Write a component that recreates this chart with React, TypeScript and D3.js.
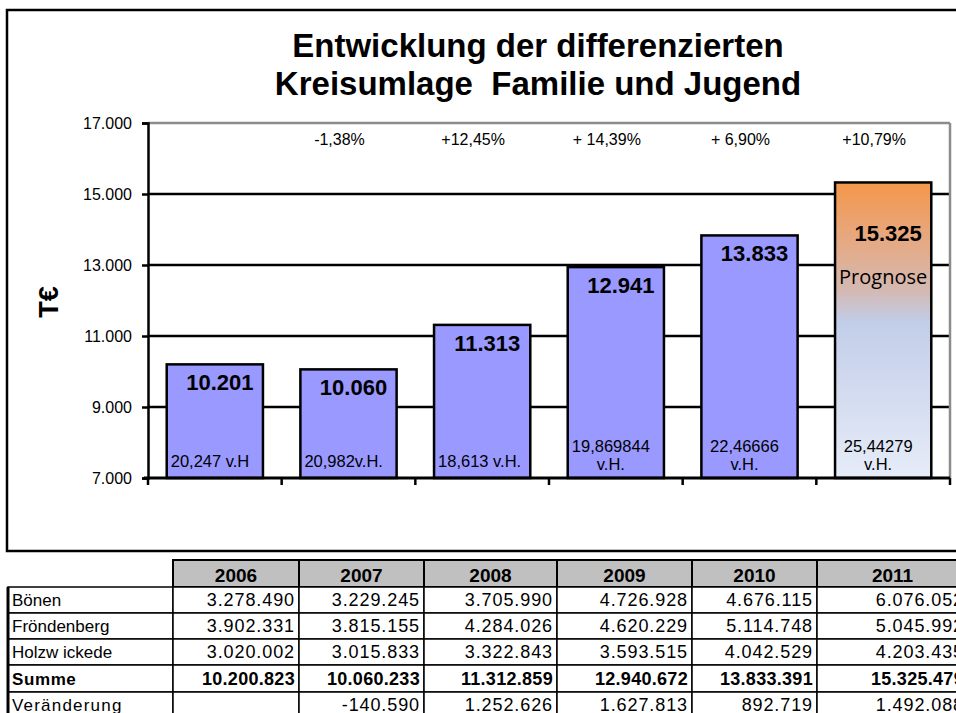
import React, { useEffect, useRef } from 'react';
import * as d3 from 'd3';

// chart data (T€)
const years = ['2006', '2007', '2008', '2009', '2010', '2011'];
const barValues = [10201, 10060, 11313, 12941, 13833, 15325];
const changeLabels = ['-1,38%', '+12,45%', '+ 14,39%', '+ 6,90%', '+10,79%'];
const shareLabels = [
  ['20,247 v.H'],
  ['20,982v.H.'],
  ['18,613 v.H.'],
  ['19,869844', 'v.H.'],
  ['22,46666', 'v.H.'],
  ['25,44279', 'v.H.'],
];
const yTicks = [7000, 9000, 11000, 13000, 15000, 17000];

// table data (€)
const rowNames = ['Bönen', 'Fröndenberg', 'Holzw ickede', 'Summe', 'Veränderung'];
const boenen = [3278490, 3229245, 3705990, 4726928, 4676115, 6076052];
const froendenberg = [3902331, 3815155, 4284026, 4620229, 5114748, 5045992];
const holzwickede = [3020002, 3015833, 3322843, 3593515, 4042529, 4203435];
const summe = [10200823, 10060233, 11312859, 12940672, 13833391, 15325479];
const veraenderung = [null, -140590, 1252626, 1627813, 892719, 1492088];

const FONT = '"Liberation Sans", Arial, sans-serif';

const de = d3.formatLocale({
  decimal: ',',
  thousands: '.',
  grouping: [3],
  currency: ['', ' €'],
  minus: '-',
});
const fmt = de.format(',.0f');

const App = () => {
  const ref = useRef<SVGSVGElement | null>(null);

  useEffect(() => {
    if (!ref.current) return;
    const svg = d3.select(ref.current);
    svg.selectAll('*').remove();

    const W = 956, H = 713;
    svg.append('rect').attr('width', W).attr('height', H).attr('fill', '#fff');

    // outer chart frame
    svg.append('rect')
      .attr('x', 7).attr('y', 10).attr('width', 970).attr('height', 541)
      .attr('fill', 'none').attr('stroke', '#000').attr('stroke-width', 2.5);

    // title
    const title = svg.append('text')
      .attr('text-anchor', 'middle')
      .attr('font-family', FONT).attr('font-weight', 'bold').attr('font-size', 33)
      .style('white-space', 'pre');
    title.append('tspan').attr('x', 538).attr('y', 57).text('Entwicklung der differenzierten');
    title.append('tspan').attr('x', 538).attr('y', 95).text('Kreisumlage  Familie und Jugend');

    const left = 148, right = 950, top = 123, bottom = 478;

    const x = d3.scaleBand().domain(years).range([left, right])
      .paddingInner(0.28).paddingOuter(0.14);
    const step = x.step();
    const y = d3.scaleLinear().domain([7000, 17000]).range([bottom, top]);

    // y-axis label
    svg.append('text')
      .attr('transform', `translate(58,302) rotate(-90)`)
      .attr('text-anchor', 'middle')
      .attr('font-family', FONT).attr('font-weight', 'bold').attr('font-size', 27)
      .text('T€');

    // gridlines
    svg.append('g').selectAll('line')
      .data(yTicks.filter(t => t > 7000))
      .enter().append('line')
      .attr('x1', left).attr('x2', right)
      .attr('y1', d => y(d)).attr('y2', d => y(d))
      .attr('stroke', d => (d === 17000 ? '#8c8c8c' : '#000'))
      .attr('stroke-width', 2.5);

    // right border of plot area
    svg.append('line')
      .attr('x1', right).attr('x2', right).attr('y1', top).attr('y2', bottom)
      .attr('stroke', '#8c8c8c').attr('stroke-width', 2.5);

    // y axis
    const yAxis = svg.append('g')
      .attr('transform', `translate(${left},0)`)
      .call(d3.axisLeft(y).tickValues(yTicks).tickFormat(d => fmt(d as number)).tickSize(6).tickPadding(10));
    yAxis.select('.domain').attr('stroke-width', 2.5);
    yAxis.selectAll('.tick line').attr('stroke-width', 2.5);
    yAxis.selectAll('.tick text')
      .attr('font-family', FONT).attr('font-size', 16).attr('fill', '#000');

    // gradient for forecast bar
    const defs = svg.append('defs');
    const grad = defs.append('linearGradient').attr('id', 'prog')
      .attr('x1', 0).attr('y1', 0).attr('x2', 0).attr('y2', 1);
    [[0, '#f4974a'], [0.22, '#e4ab89'], [0.36, '#d4b8b0'], [0.47, '#c2cde8'], [1, '#e6ecf8']]
      .forEach(([o, c]) => grad.append('stop').attr('offset', o as number).attr('stop-color', c as string));

    // bars
    svg.append('g').selectAll('rect')
      .data(barValues)
      .enter().append('rect')
      .attr('x', (d, i) => x(years[i])!)
      .attr('y', d => y(d))
      .attr('width', x.bandwidth())
      .attr('height', d => bottom - y(d))
      .attr('fill', (d, i) => (i === years.length - 1 ? 'url(#prog)' : '#9999ff'))
      .attr('stroke', '#000').attr('stroke-width', 2.5);

    // x axis
    svg.append('line')
      .attr('x1', left - 4).attr('x2', right).attr('y1', bottom).attr('y2', bottom)
      .attr('stroke', '#000').attr('stroke-width', 3);
    svg.append('g').selectAll('line')
      .data(d3.range(years.length + 1))
      .enter().append('line')
      .attr('x1', i => left + i * step).attr('x2', i => left + i * step)
      .attr('y1', bottom).attr('y2', bottom + 7)
      .attr('stroke', '#000').attr('stroke-width', 2.5);

    // value labels
    svg.append('g').selectAll('text')
      .data(barValues)
      .enter().append('text')
      .attr('x', (d, i) => x(years[i])! + x.bandwidth() / 2 + 5)
      .attr('y', (d, i) => y(d) + (i === years.length - 1 ? 59 : 26))
      .attr('text-anchor', 'middle')
      .attr('font-family', FONT).attr('font-weight', 'bold').attr('font-size', 22)
      .text(d => fmt(d));

    // Prognose
    const last = years[years.length - 1];
    svg.append('text')
      .attr('x', x(last)! + x.bandwidth() / 2)
      .attr('y', y(barValues[barValues.length - 1]) + 102)
      .attr('text-anchor', 'middle')
      .attr('font-family', '"Open Sans", sans-serif').attr('font-size', 20)
      .text('Prognose');

    // change labels above bars
    svg.append('g').selectAll('text')
      .data(changeLabels)
      .enter().append('text')
      .attr('x', (d, i) => x(years[i + 1])! + x.bandwidth() / 2 - 9)
      .attr('y', 145)
      .attr('text-anchor', 'middle')
      .attr('font-family', FONT).attr('font-size', 16)
      .style('white-space', 'pre')
      .text(d => d);

    // share labels at bar bottom
    shareLabels.forEach((lines, i) => {
      const bx = x(years[i])!;
      if (lines.length === 1) {
        svg.append('text')
          .attr('x', bx + 4).attr('y', 467)
          .attr('font-family', FONT).attr('font-size', 16.5)
          .text(lines[0]);
      } else {
        lines.forEach((l, j) => {
          svg.append('text')
            .attr('x', bx + x.bandwidth() / 2 - 5).attr('y', 452 + j * 18)
            .attr('text-anchor', 'middle')
            .attr('font-family', FONT).attr('font-size', 16.5)
            .text(l);
        });
      }
    });

    // ---- table ----
    const colEdges = [8, 173, 299, 424, 557, 692, 817, 968];
    const rowEdges = [560, 587, 613, 639, 665, 692, 718];
    const tableRows = [boenen, froendenberg, holzwickede, summe, veraenderung];
    const tbl = svg.append('g');

    // header
    years.forEach((yr, i) => {
      tbl.append('rect')
        .attr('x', colEdges[i + 1]).attr('y', rowEdges[0])
        .attr('width', colEdges[i + 2] - colEdges[i + 1]).attr('height', rowEdges[1] - rowEdges[0])
        .attr('fill', '#c0c0c0').attr('stroke', '#000').attr('stroke-width', 2);
      tbl.append('text')
        .attr('x', (colEdges[i + 1] + colEdges[i + 2]) / 2).attr('y', rowEdges[1] - 5)
        .attr('text-anchor', 'middle')
        .attr('font-family', FONT).attr('font-weight', 'bold').attr('font-size', 19)
        .text(yr);
    });

    tableRows.forEach((vals, r) => {
      const y0 = rowEdges[r + 1], y1 = rowEdges[r + 2];
      const bold = r === 3;
      for (let c = 0; c < colEdges.length - 1; c++) {
        tbl.append('rect')
          .attr('x', colEdges[c]).attr('y', y0)
          .attr('width', colEdges[c + 1] - colEdges[c]).attr('height', y1 - y0)
          .attr('fill', '#fff').attr('stroke', '#000').attr('stroke-width', 1.5);
      }
      tbl.append('text')
        .attr('x', colEdges[0] + 4).attr('y', y1 - 7)
        .attr('font-family', FONT).attr('font-size', 17)
        .attr('font-weight', bold ? 'bold' : 'normal')
        .attr('letter-spacing', r === 4 ? 1.2 : bold ? 0.6 : 0)
        .text(rowNames[r]);
      vals.forEach((v, c) => {
        if (v == null) return;
        tbl.append('text')
          .attr('x', colEdges[c + 2] - 4).attr('y', y1 - 7)
          .attr('text-anchor', 'end')
          .attr('font-family', FONT).attr('font-size', 18)
          .attr('font-weight', bold ? 'bold' : 'normal')
          .attr('letter-spacing', bold ? 0.3 : 0.9)
          .text(fmt(v));
      });
    });
    // thick left edge of table
    tbl.append('line')
      .attr('x1', colEdges[0]).attr('x2', colEdges[0])
      .attr('y1', rowEdges[1]).attr('y2', rowEdges[rowEdges.length - 1])
      .attr('stroke', '#000').attr('stroke-width', 3);
  }, []);

  return (
    <svg
      ref={ref}
      width={956}
      height={713}
      style={{ position: 'absolute', left: 0, top: 0, display: 'block' }}
    />
  );
};

export default App;
